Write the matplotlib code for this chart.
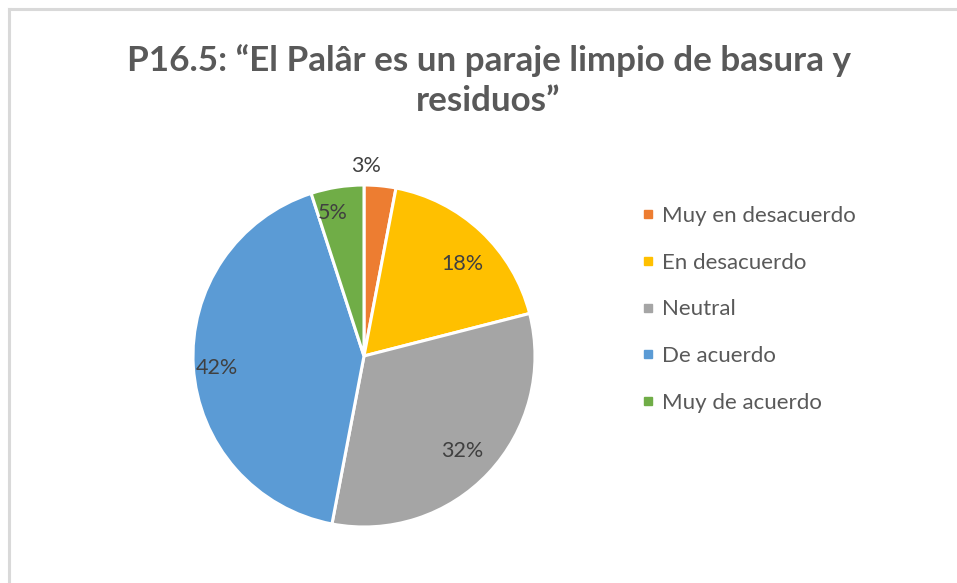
import matplotlib.pyplot as plt
from matplotlib.lines import Line2D
import numpy as np

plt.rcParams['font.family'] = ['Lato', 'DejaVu Sans']

titulo = 'P16.5: \u201cEl Pal\u00e2r es un paraje limpio de basura y\nresiduos\u201d'
categorias = ['Muy en desacuerdo', 'En desacuerdo', 'Neutral', 'De acuerdo', 'Muy de acuerdo']
porcentajes = [3, 18, 32, 42, 5]
colores = ['#ED7D31', '#FFC000', '#A5A5A5', '#5B9BD5', '#70AD47']

fig = plt.figure(figsize=(9.57, 5.83), dpi=100)

# marco gris (solo se ve borde superior e izquierdo)
fig.add_artist(Line2D([8.5/957, 8.5/957], [0, 1 - 9/583], color='#D9D9D9', lw=2.2))
fig.add_artist(Line2D([8.5/957, 1], [1 - 9/583, 1 - 9/583], color='#D9D9D9', lw=2.2))

fig.text(0.5105, 1 - 80.5/583, titulo, ha='center', va='center', fontsize=25.2,
         fontweight='bold', color='#595959', linespacing=1.3)

ax = fig.add_axes([(364 - 171) / 957, (583 - 356 - 171) / 583, 342 / 957, 342 / 583])
wedges, textos = ax.pie(porcentajes, colors=colores, startangle=90, counterclock=False,
                        wedgeprops=dict(edgecolor='white', linewidth=2.2))
ax.set_xlim(-1, 1)
ax.set_ylim(-1, 1)
ax.set_aspect('equal')
ax.axis('off')
for w in wedges:
    w.set_clip_on(False)

# etiquetas de porcentaje
radios = [1.13, 0.80, 0.79, 0.86, 0.86]
for w, p, r in zip(wedges, porcentajes, radios):
    ang = np.deg2rad((w.theta1 + w.theta2) / 2)
    x, y = r * np.cos(ang), r * np.sin(ang) - 0.016
    if p == 3:
        x = 0.01
    if p == 5:
        x -= 0.05
    if p == 18:
        x += 0.03
        y -= 0.03
    ax.text(x, y, '%d%%' % p, ha='center', va='center', fontsize=15.5, color='#404040')

handles = [Line2D([], [], marker='s', ls='', color=c, markersize=6) for c in colores]
fig.legend(handles, categorias, loc='upper left', bbox_to_anchor=(642 / 957, 1 - 206 / 583),
           frameon=False, fontsize=16, labelcolor='#595959', handlelength=0.5,
           handletextpad=0.4, labelspacing=1.2, borderaxespad=0, borderpad=0)

fig.savefig('out.png', dpi=100)
